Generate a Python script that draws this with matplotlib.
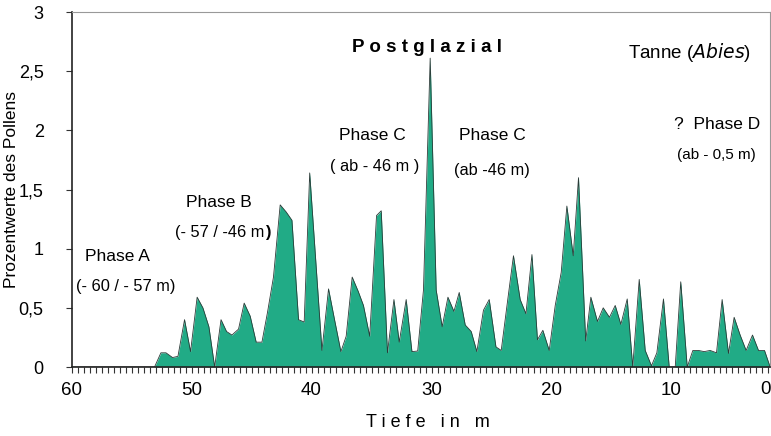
import numpy as np
import matplotlib
matplotlib.use("Agg")
import matplotlib.pyplot as plt
from matplotlib.ticker import MultipleLocator, FuncFormatter

plt.rcParams['font.family'] = ['Liberation Sans', 'DejaVu Sans']

# Tiefe (m) und Prozentwerte Tanne
tiefe = [60.0, 53.08, 52.55, 52.13, 51.58, 51.13, 50.58, 50.08, 49.53, 49.05, 48.55,
         48.07, 47.54, 47.08, 46.63, 46.08, 45.61, 45.11, 44.61, 44.13, 43.67,
         43.17, 42.61, 42.11, 41.63, 41.08, 40.61, 40.15, 39.13, 38.58, 38.08,
         37.55, 37.11, 36.61, 36.11, 35.67, 35.15, 34.58, 34.19, 33.67, 33.13,
         32.69, 32.11, 31.63, 31.15, 30.67, 30.11, 29.61, 29.11, 28.63, 28.13,
         27.69, 27.19, 26.69, 26.22, 25.67, 25.19, 24.63, 24.19, 23.69, 23.17,
         22.61, 22.13, 21.63, 21.17, 20.72, 20.19, 19.69, 19.19, 18.72, 18.19,
         17.75, 17.15, 16.72, 16.17, 15.69, 15.17, 14.69, 14.22, 13.69, 13.23,
         12.69, 12.19, 11.67, 11.22, 10.67, 10.19, 9.69, 9.23, 8.69, 8.22,
         7.75, 7.28, 6.78, 6.25, 5.78, 5.25, 4.78, 4.28, 3.78, 3.25, 2.75,
         2.25, 1.78]
prozent = [0.0, 0.0, 0.12, 0.12, 0.08, 0.09, 0.40, 0.13, 0.59, 0.50, 0.34,
           0.0, 0.40, 0.30, 0.27, 0.32, 0.54, 0.43, 0.21, 0.21, 0.46,
           0.76, 1.37, 1.31, 1.24, 0.40, 0.38, 1.64, 0.14, 0.66, 0.40,
           0.13, 0.26, 0.76, 0.64, 0.52, 0.26, 1.28, 1.32, 0.12, 0.57,
           0.21, 0.57, 0.13, 0.135, 0.65, 2.61, 0.65, 0.34, 0.59, 0.47,
           0.63, 0.355, 0.30, 0.13, 0.48, 0.57, 0.17, 0.14, 0.535, 0.94,
           0.57, 0.45, 0.95, 0.23, 0.31, 0.14, 0.52, 0.80, 1.36, 0.94,
           1.60, 0.22, 0.59, 0.385, 0.50, 0.42, 0.52, 0.36, 0.575, 0.0,
           0.74, 0.14, 0.01, 0.12, 0.575, 0.0, 0.0, 0.72, 0.0, 0.14,
           0.14, 0.13, 0.14, 0.12, 0.57, 0.115, 0.42, 0.27, 0.14, 0.27, 0.14,
           0.14, 0.0]

x_ticks = [60, 50, 40, 30, 20, 10]
y_ticks = [0, 0.5, 1, 1.5, 2, 2.5, 3]

fig = plt.figure(figsize=(7.71, 4.36), dpi=100)
ax = fig.add_axes([71.5 / 771, 69 / 436, 698.5 / 771, 355 / 436])

ax.fill_between(tiefe, prozent, 0, color='#21AB86', linewidth=0)
ax.plot(tiefe, prozent, color='#2b3b38', linewidth=0.6)

ax.set_xlim(60, 60 - 698.5 / 12)
ax.set_ylim(0, 3)

ax.set_xticks(x_ticks)
ax.xaxis.set_minor_locator(MultipleLocator(0.5))
ax.set_yticks(y_ticks)
ax.yaxis.set_major_formatter(FuncFormatter(lambda v, p: ('%g' % v).replace('.', ',')))
ax.tick_params(axis='x', which='both', direction='out', length=4, width=0.8,
               color='#333333', labelsize=13.5, pad=7)
ax.tick_params(axis='y', direction='out', length=4, width=0.8, color='#333333',
               labelsize=13, pad=16)
# letzte Beschriftung "0" am rechten Rand
ax.text(0.993, -0.064, '0', transform=ax.transAxes, ha='center',
        va='center', fontsize=13.5, clip_on=False)

for s in ['left', 'bottom']:
    ax.spines[s].set_color('#222222')
    ax.spines[s].set_linewidth(1.2)
for s in ['top', 'right']:
    ax.spines[s].set_color('#999999')
    ax.spines[s].set_linewidth(0.8)

def px(x, y):
    return x / 771, 1 - y / 436

fig.text(*px(12, 189), 'Prozentwerte des Pollens', rotation=90, ha='center',
         va='center', fontsize=12.5)
fig.text(428 / 771, 1 - 422 / 436, 'T i e f e   i n   m', ha='center', va='center',
         fontsize=13)

fs = 12.5
fig.text(*px(117, 256), 'Phase A', ha='center', va='center', fontsize=fs)
fig.text(*px(126, 287), '(- 60 / - 57 m)', ha='center', va='center', fontsize=fs - 0.7)
fig.text(*px(219, 202), 'Phase B', ha='center', va='center', fontsize=fs)
tb = fig.text(*px(220, 233), '(- 57 / -46 m', ha='center', va='center', fontsize=fs - 0.7)
ax.annotate(')', xy=(1, 0), xycoords=tb, ha='left', va='bottom',
            fontsize=fs - 0.7, fontweight='bold')
fig.text(*px(372, 135), 'Phase C', ha='center', va='center', fontsize=fs)
fig.text(*px(375, 167), '( ab - 46 m )', ha='center', va='center', fontsize=fs - 0.7)
fig.text(*px(492, 136), 'Phase C', ha='center', va='center', fontsize=fs)
fig.text(*px(492, 170), '(ab -46 m)', ha='center', va='center', fontsize=fs - 0.7)
fig.text(*px(427, 47), 'P o s t g l a z i a l', ha='center', va='center',
         fontsize=13.5, fontweight='bold')
fig.text(*px(689, 53), 'Tanne ($\\it{Abies}$)', ha='center', va='center', fontsize=13.5)
fig.text(*px(717, 124), '?  Phase D', ha='center', va='center', fontsize=fs)
fig.text(*px(716, 155), '(ab - 0,5 m)', ha='center', va='center', fontsize=11)

fig.savefig('out.png', dpi=100)
